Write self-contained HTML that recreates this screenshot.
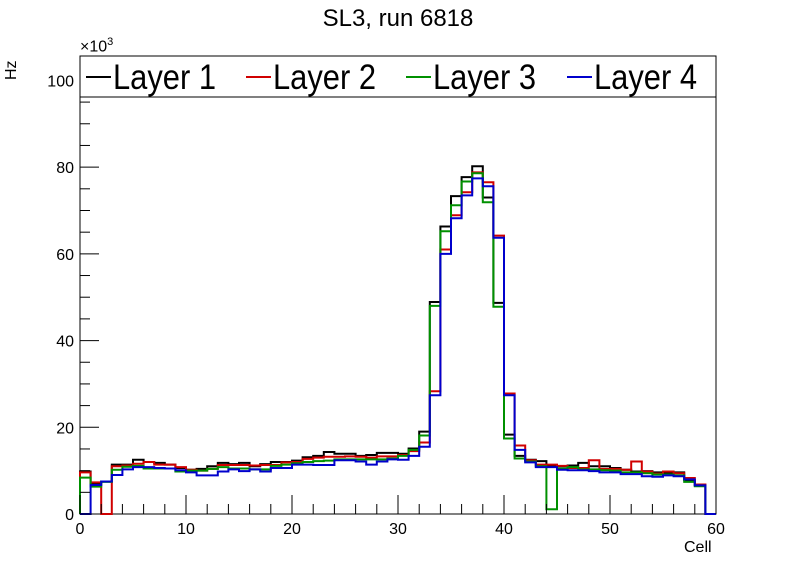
<!DOCTYPE html>
<html><head><meta charset="utf-8"><style>
body{margin:0;background:#fff;}
svg{display:block;font-family:"Liberation Sans",sans-serif;}
</style></head><body>
<svg id="c" width="796" height="572"></svg>
<script>
const layerNames=["Layer 1","Layer 2","Layer 3","Layer 4"];
const layerColors=["#000000","#d00000","#009000","#0000cc"];
const layer1=[9.8,7.1,7.5,11.4,11.4,12.5,12,11.8,11.4,10.6,10.2,10.4,11,11.8,11.5,11.8,11,11.5,12,12,12.3,13.1,13.4,14.3,13.9,13.9,13.4,13.6,14.1,14.1,13.9,15.1,19,48.9,66.3,73.3,77.7,80.2,73,48.7,18.3,13.4,12.5,12.2,11,11,11.2,11.8,11,11,10.6,10.2,9.8,9.9,9.6,9.4,9.6,7.8,6.6,0];
const layer2=[9.6,7.3,0,11,11.2,11.6,12,11.4,11.4,10.8,10.2,10,10.4,11.3,11.3,11.3,11.2,11.3,11.3,11.9,12,12.7,13,13.2,13.2,13.3,13.2,13,13.3,13.3,13.6,14.5,16.5,28.3,61,68.9,74.2,78.8,76.5,64.2,27.8,15.8,12.4,11.4,11.4,11.1,10.6,10.6,12.4,10.4,10.4,10.2,12.1,9.8,9.3,9.8,9.4,8.3,6.8,0];
const layer3=[8.4,6.3,7.4,10.2,10.9,11.1,10.5,10.5,10.5,9.8,10,10,10.4,10.8,10.5,10.5,10.3,10.3,11.1,11.4,11.7,12,12.2,12.3,12.6,12.6,12.6,12.6,12.6,12.8,13.4,14.8,18.1,48,65.2,71.2,76.7,78.6,71.9,47.8,17.4,12.8,12.1,11,1.1,10.5,10.8,10.3,10.3,10.1,10,9.6,9.6,9.4,9.1,9.1,8.9,7.4,6.4,0];
const layer4=[0,6.7,7.5,9,10.3,10.8,10.8,10.6,10.5,10.1,9.6,8.9,8.9,9.8,10.3,9.9,10.3,9.8,10.6,10.6,11.4,11.4,11.3,11.3,12.4,12.4,12.1,11.4,12.1,12.6,12.5,13.4,15.5,27.4,60,68.2,73.5,77.4,75.6,63.7,27.4,14.8,11.9,10.8,10.8,10.2,10.1,10.1,9.9,9.6,9.6,9.2,9.2,8.7,8.6,8.9,8.7,8,6.6,0];
const series=[layer1,layer2,layer3,layer4];
const xTicks=[0,10,20,30,40,50,60];
const yTicks=[0,20,40,60,80,100];

const NS="http://www.w3.org/2000/svg";
const svg=document.getElementById('c');
const L=80,R=716,B=514,T=57,XMAX=60,YMAX=105.4;
const sx=v=>L+(R-L)*v/XMAX;
const sy=v=>B-(B-T)*v/YMAX;
function mk(tag,attrs,parent){const e=document.createElementNS(NS,tag);for(const k in attrs)e.setAttribute(k,attrs[k]);(parent||svg).appendChild(e);return e;}

const frame=mk('rect',{x:L,y:T,width:R-L,height:B-T,fill:'none',stroke:'#000','stroke-width':1});



series.forEach((vals,si)=>{
  let d='M'+sx(0)+','+sy(0);
  for(let i=0;i<vals.length;i++){
    const w=XMAX/vals.length;
    d+=' L'+sx(i*w)+','+sy(vals[i])+' L'+sx((i+1)*w)+','+sy(vals[i]);
  }
  d+=' L'+sx(XMAX)+','+sy(0);
  const p=mk('path',{d:d,fill:'none',stroke:layerColors[si],'stroke-width':2});
  
  
});

for(let v=0;v<=XMAX;v+=2){
  const major=v%10===0;
  const t=mk('line',{x1:sx(v),x2:sx(v),y1:B,y2:B-(major?19:10),stroke:'#000','stroke-width':1});
  
  
}
xTicks.forEach(v=>{
  const t=mk('text',{x:sx(v),y:B+20,'text-anchor':'middle','font-size':16});
  t.textContent=v;
  
  
});
for(let v=0;v<=YMAX;v+=5){
  const major=v%20===0;
  const t=mk('line',{x1:L,x2:L+(major?19:10),y1:sy(v),y2:sy(v),stroke:'#000','stroke-width':1});
  
  
}
yTicks.forEach(v=>{
  const t=mk('text',{x:L-6,y:sy(v)+6,'text-anchor':'end','font-size':16});
  t.textContent=v;
  
  
});

const lg=mk('g',{});


mk('rect',{x:L,y:56,width:R-L,height:41,fill:'#fff',stroke:'#000','stroke-width':1},lg);
const lx=[86,246,406,567];
layerNames.forEach((n,i)=>{
  const g=mk('g',{},lg);
  
  
  mk('line',{x1:lx[i],x2:lx[i]+25,y1:77,y2:77,stroke:layerColors[i],'stroke-width':2},g);
  const t=mk('text',{x:lx[i]+27,y:89,'font-size':35,textLength:103,lengthAdjust:'spacingAndGlyphs'},g);
  t.textContent=n;
});
</script>
<div style="position:absolute;left:0;top:0;width:796px;height:572px;pointer-events:none;font-family:'Liberation Sans',sans-serif;">
  <div style="position:absolute;left:0;width:796px;top:5px;text-align:center;font-size:24px;">SL3, run 6818</div>
  <div style="position:absolute;left:3px;top:80px;font-size:16px;transform:rotate(-90deg);transform-origin:left top;">Hz</div>
  <div style="position:absolute;left:80px;top:36px;font-size:16px;">×10<sup style="font-size:11px;">3</sup></div>
  <div style="position:absolute;left:684px;top:539px;font-size:16px;">Cell</div>
</div>
</body></html>
